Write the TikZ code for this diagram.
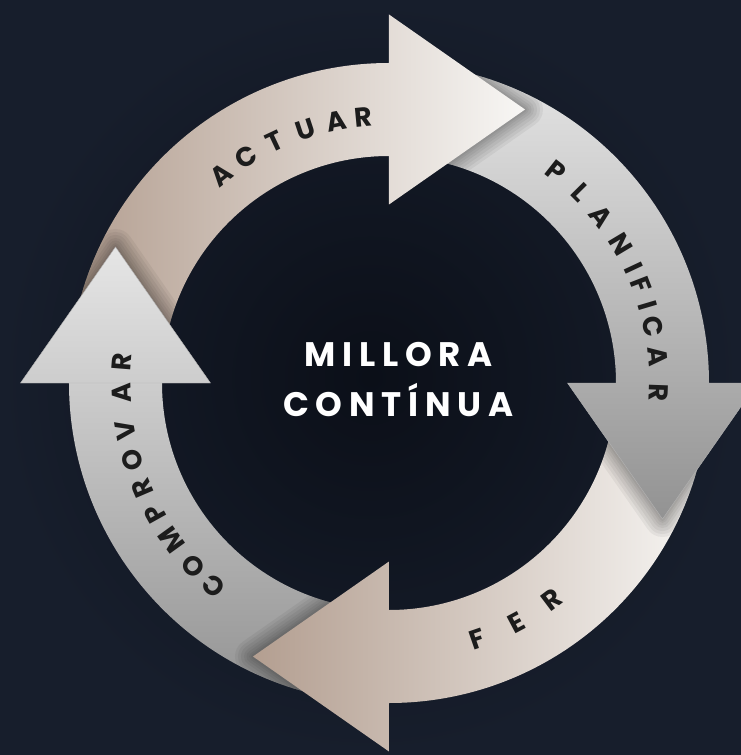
\documentclass[tikz,border=0pt]{standalone}
\usepackage{fontspec}
\newfontfamily\labfont{Poppins}
\newfontfamily\titlefont{Poppins}[LetterSpace=20]
\usetikzlibrary{calc}
\definecolor{bgdark}{HTML}{0B0F18}
\definecolor{bglight}{HTML}{171E2C}
\definecolor{tan}{HTML}{B39E90}
\definecolor{pearl}{HTML}{F8F7F5}
\definecolor{greylight}{HTML}{E6E6E6}
\definecolor{greydark}{HTML}{929292}
\definecolor{ink}{HTML}{1C1C1C}
% ring: outer 320, inner 227, head half width 95, head length 136
\newcommand\ringbody[1]{(#1+80:320) arc[start angle=#1+80, end angle=#1, radius=320]
  -- (#1:227) arc[start angle=#1, end angle=#1+80, radius=227] -- cycle}
\newcommand\ringhead[1]{(#1:178.5) -- ([shift={(#1-90:136)}]#1:273.5) -- (#1:368.5) -- cycle}
\tikzset{%
  arclabel/.style={font=\labfont\bfseries\fontsize{27}{27}\selectfont, text=ink, inner sep=0pt},
  title/.style={font=\titlefont\bfseries\fontsize{34}{34}\selectfont, text=white,
    inner sep=0pt, anchor=base},
  actfill/.style={path picture={\shade[left color=tan, right color=pearl] (-322,0) rectangle (138,380);}},
  plafill/.style={path picture={\shade[top color=greylight, bottom color=greydark] (0,322) rectangle (380,-138);}},
  ferfill/.style={path picture={\shade[left color=tan, right color=pearl] (-138,0) rectangle (322,-380);}},
  comfill/.style={path picture={\shade[top color=greylight, bottom color=greydark] (-380,138) rectangle (0,-322);}},
  halo/.style={black, opacity=.05, line join=round},
}
\begin{document}
\begin{tikzpicture}[x=1pt, y=1pt]
 \useasboundingbox (-389,-372) rectangle (352,383);
 \shade[inner color=bgdark, outer color=bglight] (-389,-372) rectangle (352,383);
 % bodies
 \path[actfill] \ringbody{90};
 \path[plafill] \ringbody{0};
 \path[ferfill] \ringbody{-90};
 \path[comfill] \ringbody{180};
 % soft shadows of each head on the next body
 \foreach \h/\b in {90/0, 0/-90, -90/180, 180/90}
 {\begin{scope}
   \clip \ringbody{\b};
   \foreach \w in {36,30,24,18,13,8,4} \draw[halo, line width=\w] \ringhead{\h};
  \end{scope}}
 % heads
 \path[actfill] \ringhead{90};
 \path[plafill, draw=black!30, line width=.4] \ringhead{0};
 \path[ferfill] \ringhead{-90};
 \path[comfill, draw=black!30, line width=.4] \ringhead{180};
 % labels along the ring
 \foreach \l/\a [count=\i] in {A/128.8, C/122.3, T/115.3, U/108.2, A/101.4, R/95.5}
  \node[arclabel, rotate=\a-90] (actuar\i) at (\a:267) {\l};
 \foreach \l/\a [count=\i] in {P/51.8, L/44.8, A/38.1, N/30.9, I/25.1, F/21.2, I/16.6, C/12.1, A/5.6, R/-2.1}
  \node[arclabel, rotate=\a-90] (planificar\i) at (\a:270) {\l};
 \foreach \l/\a [count=\i] in {F/-71, E/-62, R/-53}
  \node[arclabel, rotate=\a+90] (fer\i) at (\a:271) {\l};
 \foreach \l/\a [count=\i] in {C/229.2, O/223.2, M/215.9, P/209.2, R/203.2, O/196.8, V/190.1, A/182.2, R/175.4}
  \node[arclabel, rotate=\a-90] (comprovar\i) at (\a:268) {\l};
 % centre
 \node[title] (millora) at (9.5,16.3) {MILLORA};
 \node[title] (continua) at ([yshift=-50]millora.base) {CONTÍNUA};
\end{tikzpicture}
\end{document}
